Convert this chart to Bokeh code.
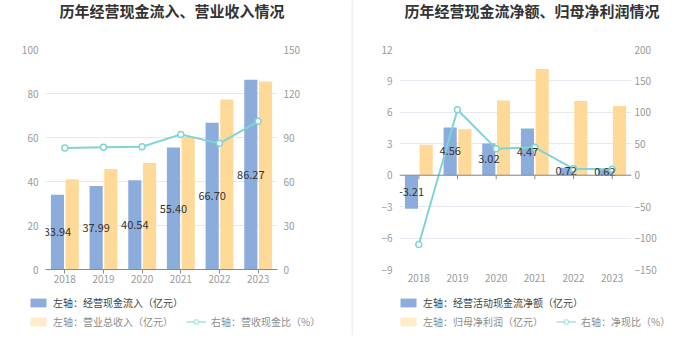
from bokeh.plotting import figure
from bokeh.models import (ColumnDataSource, Range1d, LinearAxis, FixedTicker, Legend,
                          LegendItem, Span, Label)
from bokeh.transform import dodge
from bokeh.layouts import row, column
from bokeh.embed import file_html
from bokeh.resources import INLINE
from bokeh.core.properties import value

# ---------------- data ----------------
years = ["2018", "2019", "2020", "2021", "2022", "2023"]

# chart 1
inflow = [33.94, 37.99, 40.54, 55.40, 66.70, 86.27]          # 经营现金流入 (亿元)
revenue = [41.0, 45.7, 48.4, 60.2, 77.3, 85.5]               # 营业总收入 (亿元)
cash_ratio = [82.8, 83.3, 83.7, 92.1, 86.0, 101.0]           # 营收现金比 (%)
left_ticks_1 = [0, 20, 40, 60, 80, 100]
right_ticks_1 = [0, 30, 60, 90, 120, 150]
title_1 = "历年经营现金流入、营业收入情况"
legend_1 = ["左轴：经营现金流入（亿元）", "左轴：营业总收入（亿元）", "右轴：营收现金比（%）"]

# chart 2
net_cf = [-3.21, 4.56, 3.02, 4.47, 0.72, 0.62]               # 经营活动现金流净额 (亿元)
net_profit = [2.91, 4.38, 7.14, 10.13, 7.08, 6.60]           # 归母净利润 (亿元)
net_ratio = [-110.3, 104.1, 42.3, 44.1, 10.2, 9.4]           # 净现比 (%)
left_ticks_2 = [-9, -6, -3, 0, 3, 6, 9, 12]
right_ticks_2 = [-150, -100, -50, 0, 50, 100, 150, 200]
title_2 = "历年经营现金流净额、归母净利润情况"
legend_2 = ["左轴：经营活动现金流净额（亿元）", "左轴：归母净利润（亿元）", "右轴：净现比（%）"]

# ---------------- style ----------------
FONT = "Noto Sans CJK SC"
BLUE = "#8CADDC"
YELLOW = "#FFD997"
CYAN = "#7FD4D4"
GRID = "#E6E9F0"
TICK_TXT = "#9A9A9A"
AXIS = "#8A8A8A"
NAN = float("nan")


def blank(width, height):
    q = figure(width=width, height=height, toolbar_location=None, output_backend="svg",
               x_axis_type=None, y_axis_type=None, min_border=0,
               x_range=Range1d(0, 1), y_range=Range1d(0, 1))
    q.outline_line_color = None
    q.grid.grid_line_color = None
    return q


def make_title(width, text, x):
    q = blank(width, 27)
    q.add_layout(Label(x=x, y=17, x_units="screen", y_units="screen", text=text,
                       text_font=FONT, text_font_size="15px", text_font_style="bold",
                       text_color="#333333", text_align="left", text_baseline="middle"))
    return q


def make_chart(width, border_left, border_right,
               blue, yellow, ratio, lticks, rticks, zero_axis, rstandoff):
    src = ColumnDataSource(dict(x=years, blue=blue, yellow=yellow, ratio=ratio,
                                mid=[v / 2 for v in blue],
                                txt=["%.2f" % v for v in blue]))
    p = figure(width=width, height=263, x_range=years,
               y_range=Range1d(lticks[0], lticks[-1]),
               toolbar_location=None, output_backend="svg",
               min_border_left=border_left, min_border_right=border_right,
               min_border_top=22, min_border_bottom=21)
    p.outline_line_color = None
    p.background_fill_color = "white"
    p.border_fill_color = "white"

    p.extra_y_ranges = {"r": Range1d(rticks[0], rticks[-1])}
    raxis = LinearAxis(y_range_name="r", ticker=FixedTicker(ticks=rticks))
    p.add_layout(raxis, "right")

    for ax in p.yaxis:
        ax.axis_line_color = None
        ax.major_tick_line_color = None
        ax.minor_tick_line_color = None
        ax.major_tick_out = 0
        ax.major_label_text_font = FONT
        ax.major_label_text_font_size = "10px"
        ax.major_label_text_color = TICK_TXT
    p.yaxis[0].ticker = FixedTicker(ticks=lticks)
    p.yaxis[0].major_label_standoff = 7
    raxis.major_label_standoff = rstandoff

    xa = p.xaxis[0]
    xa.major_label_text_font = FONT
    xa.major_label_text_font_size = "10px"
    xa.major_label_text_color = TICK_TXT
    xa.minor_tick_line_color = None
    if zero_axis:
        xa.axis_line_color = None
        xa.major_tick_line_color = None
        xa.major_tick_in = 0
        xa.major_tick_out = 0
        xa.major_label_standoff = 4
    else:
        xa.axis_line_color = AXIS
        xa.major_tick_line_color = AXIS
        xa.major_tick_in = 0
        xa.major_tick_out = 4
        xa.major_label_standoff = 1

    p.xgrid.grid_line_color = None
    p.ygrid.grid_line_color = GRID
    p.ygrid.ticker = FixedTicker(ticks=lticks)

    p.vbar(x=dodge("x", -0.19, range=p.x_range), top="blue", width=0.34,
           source=src, fill_color=BLUE, line_color=None)
    p.vbar(x=dodge("x", 0.19, range=p.x_range), top="yellow", width=0.34,
           source=src, fill_color=YELLOW, line_color=None)

    if zero_axis:
        p.add_layout(Span(location=0, dimension="width", line_color=AXIS, line_width=1))
        tick_len = 4 * (lticks[-1] - lticks[0]) / 220.0
        p.segment(x0="x", x1="x", y0=0, y1=-tick_len, source=src,
                  line_color=AXIS, line_width=1)

    p.line(x="x", y="ratio", source=src, y_range_name="r",
           line_color=CYAN, line_width=2)
    p.scatter(x="x", y="ratio", source=src, y_range_name="r", size=6,
              marker="circle", fill_color="white", line_color=CYAN, line_width=1.5)

    p.text(x=dodge("x", -0.19, range=p.x_range), y="mid", text="txt", source=src,
           text_font=value(FONT), text_font_size="11px", text_color="#333333",
           text_align="center", text_baseline="middle")
    return p


def make_legend(width, labels, legend_x):
    q = blank(width, 54)
    db = q.vbar(x=[NAN], top=[NAN], width=0.3, fill_color=BLUE, line_color=None)
    dy = q.vbar(x=[NAN], top=[NAN], width=0.3, fill_color=YELLOW, fill_alpha=0.5,
                line_color=None)
    dl = q.line(x=[NAN], y=[NAN], line_color=CYAN, line_alpha=0.5, line_width=2)
    dc = q.scatter(x=[NAN], y=[NAN], marker="circle", size=8, fill_color="white",
                   line_color=CYAN, line_alpha=0.5, line_width=1.5)
    common = dict(orientation="horizontal", padding=0, margin=0, spacing=13,
                  border_line_color=None, background_fill_alpha=0,
                  glyph_width=20, glyph_height=11, label_standoff=5, label_height=12,
                  label_text_font=FONT, label_text_font_size="10px")
    leg1 = Legend(items=[LegendItem(label=labels[0], renderers=[db])],
                  location=(legend_x, 34), label_text_color="#444444", **common)
    leg2 = Legend(items=[LegendItem(label=labels[1], renderers=[dy]),
                         LegendItem(label=labels[2], renderers=[dl, dc])],
                  location=(legend_x, 15), label_text_color="#8C8C8C", **common)
    q.add_layout(leg1)
    q.add_layout(leg2)
    return q


left_title = make_title(351, title_1, 59)
left = make_chart(351, 45, 74, inflow, revenue, cash_ratio,
                  left_ticks_1, right_ticks_1, False, 6)
left_leg = make_legend(351, legend_1, 28)

right_title = make_title(331, title_2, 51)
right = make_chart(331, 46, 53, net_cf, net_profit, net_ratio,
                   left_ticks_2, right_ticks_2, True, 3)
right_leg = make_legend(331, legend_2, 45)

divider = figure(width=2, height=335, toolbar_location=None, output_backend="svg",
                 x_axis_type=None, y_axis_type=None, min_border=0)
divider.outline_line_color = None
divider.background_fill_color = "#F0F0F0"
divider.border_fill_color = "#F0F0F0"
divider.grid.grid_line_color = None

layout = row(column(row(left_title), row(left), row(left_leg)),
             divider,
             column(row(right_title), row(right), row(right_leg)))
open("out.html", "w").write(file_html(layout, INLINE))
